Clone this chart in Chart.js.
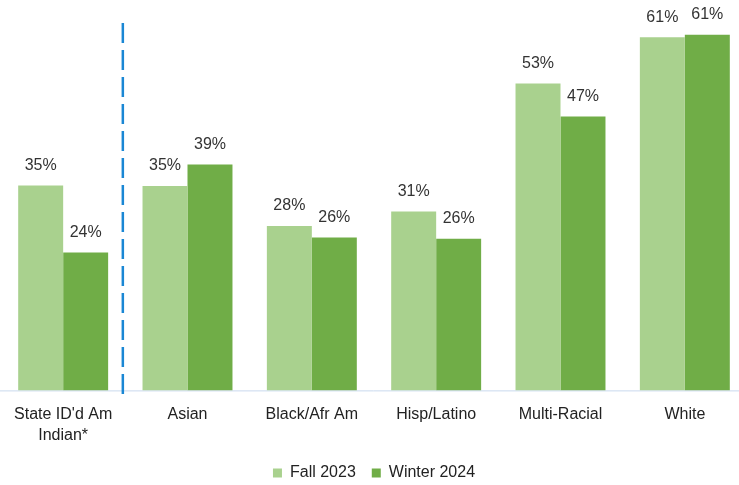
<!DOCTYPE html>
<html>
<head>
<meta charset="utf-8">
<script src="https://cdn.jsdelivr.net/npm/chart.js@4/dist/chart.umd.min.js"></script>
<style>
  html, body { margin: 0; padding: 0; background: #fff; overflow: hidden; }
  #wrap { width: 747px; height: 491px; }
</style>
</head>
<body>
<div id="wrap"><canvas id="barChart"></canvas></div>
<script>
// data
const categories = [["State ID'd Am", "Indian*"], "Asian", "Black/Afr Am", "Hisp/Latino", "Multi-Racial", "White"];
const fall2023 = [35.4, 35.3, 28.4, 30.9, 53.0, 61.0];
const winter2024 = [23.8, 39.0, 26.4, 26.2, 47.3, 61.4];
const seriesNames = ["Fall 2023", "Winter 2024"];

const FONT = "'Liberation Sans', Arial, sans-serif";

// values above bars
const valueLabels = {
  id: "valueLabels",
  afterDatasetsDraw(chart) {
    const ctx = chart.ctx;
    ctx.save();
    ctx.font = "16px " + FONT;
    ctx.fillStyle = "#333";
    ctx.textAlign = "center";
    ctx.textBaseline = "middle";
    chart.data.datasets.forEach((ds, i) => {
      chart.getDatasetMeta(i).data.forEach((bar, j) => {
        ctx.fillText(Math.round(ds.data[j]) + "%", bar.x, bar.y - 20);
      });
    });
    ctx.restore();
  }
};

// baseline and dashed separator
const extras = {
  id: "extras",
  beforeDatasetsDraw(chart) {
    const ctx = chart.ctx;
    const x = chart.scales.x;
    const y = chart.scales.y;
    const base = y.getPixelForValue(0);
    ctx.save();
    ctx.strokeStyle = "#c9d9ee";
    ctx.lineWidth = 1;
    ctx.beginPath();
    ctx.moveTo(0, base + 0.5);
    ctx.lineTo(chart.width, base + 0.5);
    ctx.stroke();

    const sx = (x.getPixelForValue(0) + x.getPixelForValue(1)) / 2 - 2.5;
    ctx.strokeStyle = "#1a87d4";
    ctx.lineWidth = 2.5;
    ctx.setLineDash([20, 7]);
    ctx.beginPath();
    ctx.moveTo(sx, 23);
    ctx.lineTo(sx, base + 7);
    ctx.stroke();
    ctx.restore();
  }
};

new Chart(document.getElementById("barChart"), {
  type: "bar",
  data: {
    labels: categories,
    datasets: [
      { label: seriesNames[0], data: fall2023, backgroundColor: "#a9d18e" },
      { label: seriesNames[1], data: winter2024, backgroundColor: "#70ad47" }
    ]
  },
  options: {
    responsive: true,
    maintainAspectRatio: false,
    animation: false,
    layout: { padding: { top: 14, left: 1, right: 0, bottom: 0 } },
    datasets: {
      bar: { categoryPercentage: 0.7235, barPercentage: 1.0 }
    },
    scales: {
      x: {
        grid: { display: false },
        border: { display: false },
        afterFit(scale) { scale.height -= 3; },
        ticks: {
          color: "#222",
          font: { family: FONT, size: 16, lineHeight: 1.3 },
          padding: 6,
          maxRotation: 0,
          autoSkip: false
        }
      },
      y: {
        display: false,
        min: 0,
        max: 65
      }
    },
    plugins: {
      legend: {
        position: "bottom",
        labels: {
          boxWidth: 9,
          boxHeight: 9,
          color: "#222",
          padding: 16,
          font: { family: FONT, size: 16 }
        }
      },
      tooltip: { enabled: false }
    }
  },
  plugins: [extras, valueLabels]
});
</script>
</body>
</html>
